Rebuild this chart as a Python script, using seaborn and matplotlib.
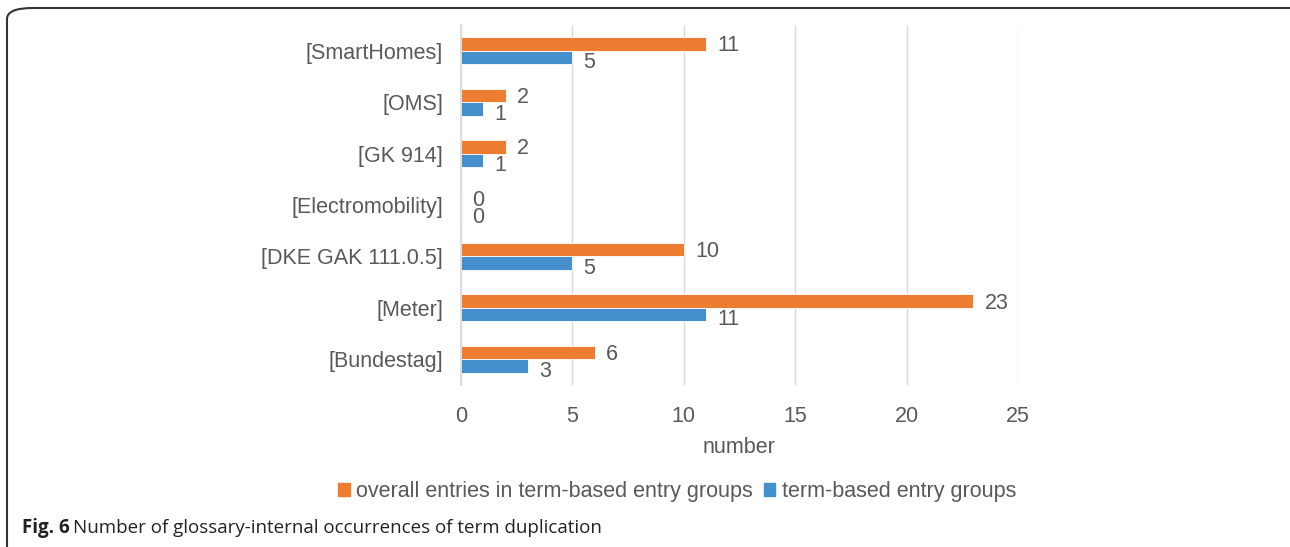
import matplotlib
matplotlib.use("Agg")
import matplotlib.pyplot as plt
import pandas as pd
import seaborn as sns
from matplotlib.patches import FancyBboxPatch, Rectangle

categories = ["[SmartHomes]", "[OMS]", "[GK 914]", "[Electromobility]",
              "[DKE GAK 111.0.5]", "[Meter]", "[Bundestag]"]
overall_entries = [11, 2, 2, 0, 10, 23, 6]
term_groups = [5, 1, 1, 0, 5, 11, 3]
series_names = ["overall entries in term-based entry groups", "term-based entry groups"]
x_ticks = [0, 5, 10, 15, 20, 25]

ORANGE = "#ED7D31"
BLUE = "#4590CC"
GREY = "#595959"
FS = 15.5

df = pd.DataFrame({
    "category": categories * 2,
    "value": overall_entries + term_groups,
    "series": [series_names[0]] * len(categories) + [series_names[1]] * len(categories),
})

sns.set_theme(style="white")
plt.rcParams["font.family"] = ["Liberation Sans", "DejaVu Sans"]

fig = plt.figure(figsize=(12.9, 5.47), dpi=100)
ax = fig.add_axes([461 / 1290, 1 - 385 / 547, (1018 - 461) / 1290, 360 / 547])

sns.barplot(data=df, y="category", x="value", hue="series", orient="h",
            palette=[ORANGE, BLUE], width=0.53, ax=ax, legend=False,
            edgecolor="white", linewidth=0.6, saturation=1)

ax.set_xlim(0, 25)
ax.set_xticks(x_ticks)
ax.set_xticklabels([str(t) for t in x_ticks])
ax.grid(axis="x", color="#D9D9D9", linewidth=1)
ax.set_axisbelow(True)
for s in ["top", "right", "bottom"]:
    ax.spines[s].set_visible(False)
ax.spines["left"].set_color("#D9D9D9")
ax.tick_params(axis="both", length=0, labelsize=FS, colors=GREY)
ax.tick_params(axis="x", pad=15)
ax.tick_params(axis="y", pad=13)
ax.set_ylabel("")
ax.set_xlabel("number", fontsize=FS, color=GREY, labelpad=7)

# value labels, nudged down a little so the two rows of a pair separate
for cont, dy_pt in zip(ax.containers, (-1.5, -3.8)):
    labels = ax.bar_label(cont, fmt="%d", padding=8, fontsize=FS, color=GREY)
    for t in labels:
        x_off, y_off = t.xyann
        t.xyann = (x_off, y_off + dy_pt)

# legend
handles = [Rectangle((0, 0), 1, 1, color=c) for c in (ORANGE, BLUE)]
fig.legend(handles, series_names, loc="center", bbox_to_anchor=(677 / 1290, 1 - 492 / 547),
           ncol=2, frameon=False, fontsize=FS, labelcolor=GREY,
           handlelength=0.55, handleheight=0.55, handletextpad=0.3, columnspacing=0.5)

# caption
fig.text(22 / 1290, 1 - 528 / 547, "Fig. 6", fontsize=13.5, fontweight="bold",
         family="Open Sans", va="center", ha="left", color="#222222")
fig.text(73 / 1290, 1 - 528 / 547, "Number of glossary-internal occurrences of term duplication",
         fontsize=13.5, family="Open Sans", va="center", ha="left", color="#222222")

# rounded frame around the figure
frame = FancyBboxPatch((7 / 1290, -0.05), 1.05, 1 - 8 / 547 + 0.05,
                       boxstyle="round,pad=0,rounding_size=0.02",
                       transform=fig.transFigure, fill=False,
                       edgecolor="#333333", linewidth=1.5, clip_on=False)
fig.patches.append(frame)

fig.savefig("out.png", dpi=100)
